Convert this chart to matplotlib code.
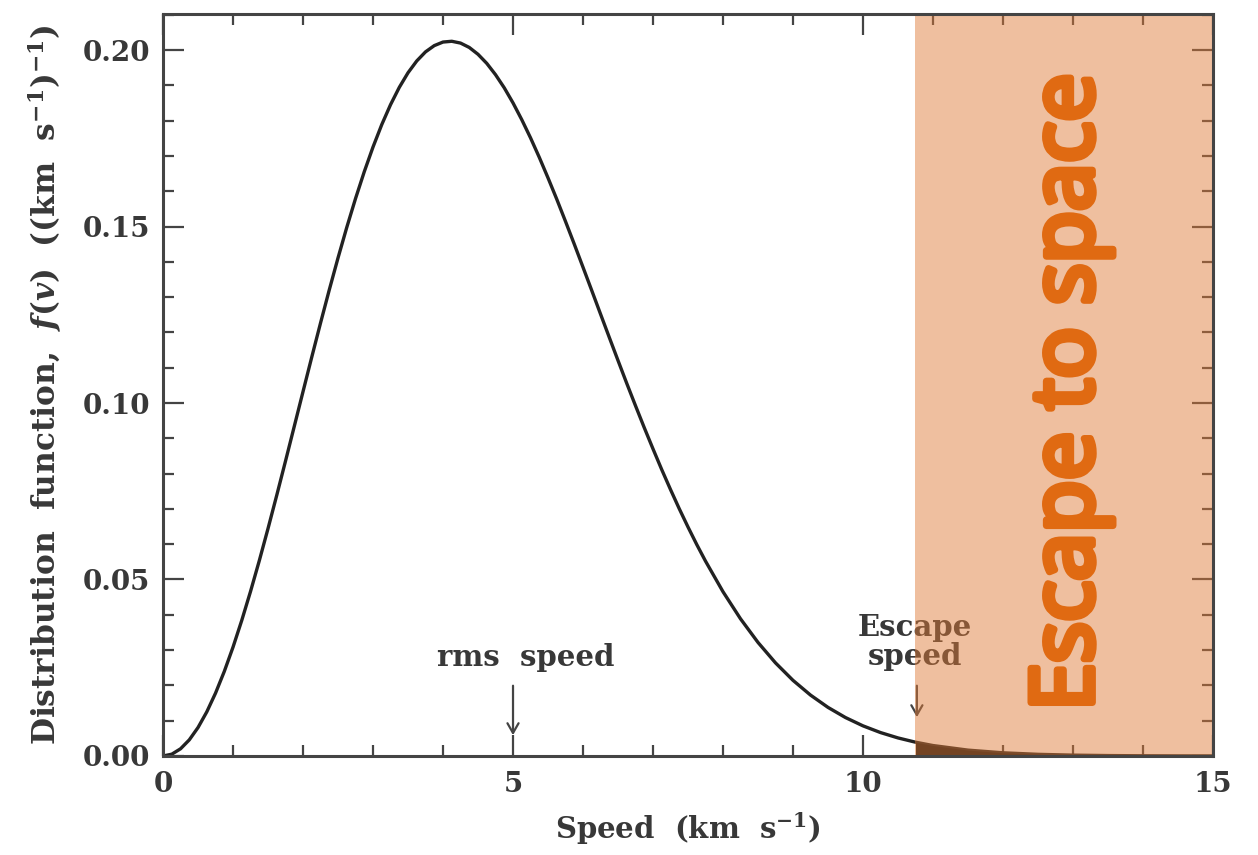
import matplotlib
matplotlib.use("Agg")
import matplotlib.pyplot as plt
import matplotlib.patheffects as pe
from matplotlib.ticker import MultipleLocator

# Values
speed = [0.0, 0.125, 0.25, 0.375, 0.5, 0.625, 0.75, 0.875, 1.0, 1.125, 1.25,
         1.375, 1.5, 1.625, 1.75, 1.875, 2.0, 2.125, 2.25, 2.375, 2.5, 2.625,
         2.75, 2.875, 3.0, 3.125, 3.25, 3.375, 3.5, 3.625, 3.75, 3.875, 4.0,
         4.125, 4.25, 4.375, 4.5, 4.625, 4.75, 4.875, 5.0, 5.125, 5.25, 5.375,
         5.5, 5.625, 5.75, 5.875, 6.0, 6.125, 6.25, 6.375, 6.5, 6.625, 6.75,
         6.875, 7.0, 7.125, 7.25, 7.375, 7.5, 7.625, 7.75, 8.0, 8.25, 8.5, 8.75,
         9.0, 9.25, 9.5, 9.75, 10.0, 10.25, 10.5, 10.75, 11.0, 11.5, 12.0, 12.5,
         13.0, 13.5, 14.0, 14.5, 15.0]
fv = [0.0, 0.00051, 0.00204, 0.00457, 0.00807, 0.01250, 0.01781, 0.02395,
      0.03085, 0.03844, 0.04662, 0.05532, 0.06445, 0.07390, 0.08358, 0.09340,
      0.10324, 0.11303, 0.12266, 0.13205, 0.14111, 0.14976, 0.15792, 0.16553,
      0.17253, 0.17888, 0.18451, 0.18941, 0.19356, 0.19691, 0.19948, 0.20125,
      0.20226, 0.20248, 0.20197, 0.20073, 0.19879, 0.19622, 0.19302, 0.18929,
      0.18502, 0.18027, 0.17513, 0.16961, 0.16378, 0.15774, 0.15144, 0.14502,
      0.13846, 0.13187, 0.12522, 0.11861, 0.11205, 0.10556, 0.09923, 0.09302,
      0.08700, 0.08112, 0.07549, 0.07005, 0.06487, 0.05991, 0.05521, 0.04654,
      0.03887, 0.03217, 0.02638, 0.02143, 0.01726, 0.01377, 0.01089, 0.00854,
      0.00664, 0.00512, 0.00391, 0.00296, 0.00166, 0.00090, 0.00047, 0.00024,
      0.00012, 0.00006, 0.00003, 0.00001]
rms_speed = 5.0
escape_speed = 10.75
xticks = [0, 5, 10, 15]
yticks = [0.00, 0.05, 0.10, 0.15, 0.20]

ink = "#383838"
serif = "DejaVu Serif"
plt.rcParams["mathtext.fontset"] = "custom"
plt.rcParams["mathtext.rm"] = "DejaVu Serif:bold"
plt.rcParams["mathtext.it"] = "DejaVu Serif:italic:bold"
plt.rcParams["mathtext.bf"] = "DejaVu Serif:bold"
plt.rcParams["mathtext.default"] = "rm"

fig = plt.figure(figsize=(12.58, 8.55), dpi=100)
ax = fig.add_axes([0.1296, 0.1158, 0.8346, 0.8678])

ax.plot(speed, fv, color="#222222", lw=2.4, zorder=2)
tail_x = [s for s in speed if s >= escape_speed]
tail_y = [f for s, f in zip(speed, fv) if s >= escape_speed]
ax.fill_between(tail_x, 0, tail_y, color="#111111", lw=0, zorder=2)

ax.set_xlim(0, 15)
ax.set_ylim(0, 0.2102)
ax.set_xticks(xticks)
ax.set_xticklabels([str(t) for t in xticks])
ax.set_yticks(yticks)
ax.set_yticklabels([f"{t:.2f}" for t in yticks])
ax.xaxis.set_minor_locator(MultipleLocator(1))
ax.yaxis.set_minor_locator(MultipleLocator(0.01))
ax.tick_params(which="both", direction="in", top=True, right=True, color="#444444", width=1.6)
ax.tick_params(which="major", length=15)
ax.tick_params(which="minor", length=8)
ax.tick_params(axis="x", which="major", pad=11)
ax.tick_params(axis="y", which="major", pad=9)
for lab in ax.get_xticklabels() + ax.get_yticklabels():
    lab.set_fontfamily(serif)
    lab.set_fontsize(20)
    lab.set_fontweight("bold")
    lab.set_color(ink)
for sp in ax.spines.values():
    sp.set_linewidth(2.2)
    sp.set_color("#444444")
    sp.set_zorder(4)

ax.set_xlabel(r"Speed  (km  s$^{-1}$)", fontfamily=serif, fontsize=21,
              fontweight="bold", color=ink, labelpad=9)
ax.set_ylabel(r"Distribution  function,  $\mathit{f(v)}$  ((km  s$^{-1}$)$^{-1}$)",
              fontfamily=serif, fontsize=22.5, fontweight="bold", color=ink, labelpad=14)

# annotations
arrow_kw = dict(arrowstyle="->,head_length=0.7,head_width=0.4", color="#444444", lw=1.6)
ax.annotate("", xy=(rms_speed, 0.0051), xytext=(rms_speed, 0.0207),
            arrowprops=arrow_kw, zorder=2)
ax.text(rms_speed + 0.18, 0.0278, "rms  speed", fontfamily=serif, fontsize=21,
        fontweight="bold", color=ink, ha="center", va="center", zorder=2)
ax.annotate("", xy=(escape_speed + 0.02, 0.0102), xytext=(escape_speed + 0.02, 0.0207),
            arrowprops=arrow_kw, zorder=2)
ax.text(escape_speed - 0.01, 0.0323, "Escape\nspeed", fontfamily=serif, fontsize=21,
        fontweight="bold", color=ink, ha="center", va="center", linespacing=1.0, zorder=2)

# shaded escape region
ax.axvspan(escape_speed, 15, color=(0.875, 0.48, 0.21), alpha=0.48, lw=0, zorder=3)
ax.text(12.96, 0.1031, "Escape to space", rotation=90, fontfamily="Open Sans",
        fontsize=62, color="#E06A12", ha="center", va="center", zorder=5,
        path_effects=[pe.Stroke(linewidth=5, foreground="#E06A12"), pe.Normal()])

fig.savefig("out.png", dpi=100)
